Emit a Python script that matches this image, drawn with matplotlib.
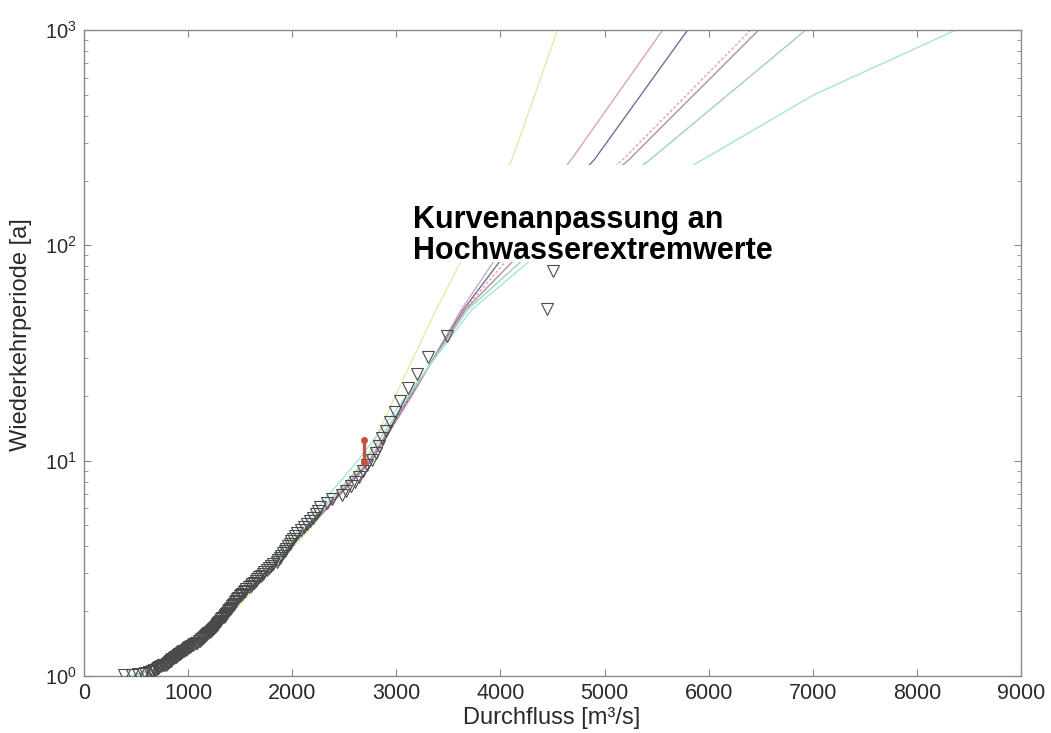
import matplotlib
matplotlib.use("Agg")
import matplotlib.pyplot as plt
from matplotlib.patches import Rectangle

plt.rcParams['font.family'] = ['Liberation Sans', 'DejaVu Sans']
plt.rcParams['mathtext.default'] = 'regular'

# annual flood peaks (descending) and their return periods
peak_q = [4500, 4450, 3490, 3300, 3200, 3110, 3040, 2990, 2940, 2900,
          2860, 2830, 2800, 2770, 2720, 2680, 2640, 2600, 2560, 2520,
          2480, 2380, 2330, 2270, 2250, 2230, 2200, 2170, 2140, 2110,
          2080, 2050, 2030, 2010, 1990, 1975, 1960, 1945, 1930, 1910,
          1895, 1880, 1865, 1850, 1820, 1800, 1780, 1755, 1730, 1715,
          1700, 1685, 1665, 1650, 1635, 1615, 1600, 1585, 1560, 1550,
          1535, 1520, 1510, 1495, 1480, 1470, 1460, 1450, 1440, 1430,
          1420, 1410, 1400, 1390, 1380, 1370, 1362, 1355, 1350, 1340,
          1330, 1320, 1310, 1300, 1290, 1280, 1275, 1265, 1260, 1250,
          1240, 1230, 1220, 1210, 1195, 1185, 1175, 1160, 1150, 1140,
          1130, 1120, 1110, 1100, 1085, 1075, 1060, 1045, 1030, 1020,
          1010, 1000, 990, 975, 965, 955, 945, 930, 920, 910,
          900, 890, 880, 870, 860, 850, 840, 835, 830, 820,
          810, 800, 790, 770, 755, 740, 725, 715, 710, 700,
          685, 670, 655, 640, 620, 590, 565, 520, 460, 385]
peak_t = [76.0, 50.7, 38.0, 30.4, 25.3, 21.7, 19.0, 16.9, 15.2, 13.8,
          12.7, 11.7, 10.9, 10.1, 9.5, 8.94, 8.44, 8.0, 7.6, 7.24,
          6.91, 6.61, 6.33, 6.08, 5.85, 5.63, 5.43, 5.24, 5.07, 4.90,
          4.75, 4.61, 4.47, 4.34, 4.22, 4.11, 4.0, 3.90, 3.80, 3.71,
          3.62, 3.53, 3.45, 3.38, 3.30, 3.23, 3.17, 3.10, 3.04, 2.98,
          2.92, 2.87, 2.81, 2.76, 2.71, 2.67, 2.62, 2.58, 2.53, 2.49,
          2.45, 2.41, 2.38, 2.34, 2.30, 2.27, 2.24, 2.20, 2.17, 2.14,
          2.11, 2.08, 2.05, 2.03, 2.0, 1.97, 1.95, 1.92, 1.90, 1.88,
          1.85, 1.83, 1.81, 1.79, 1.77, 1.75, 1.73, 1.71, 1.69, 1.67,
          1.65, 1.63, 1.62, 1.60, 1.58, 1.57, 1.55, 1.54, 1.52, 1.50,
          1.49, 1.48, 1.46, 1.45, 1.43, 1.42, 1.41, 1.39, 1.38, 1.37,
          1.36, 1.35, 1.33, 1.32, 1.31, 1.30, 1.29, 1.28, 1.27, 1.26,
          1.25, 1.24, 1.23, 1.22, 1.21, 1.20, 1.19, 1.18, 1.17, 1.16,
          1.15, 1.14, 1.13, 1.126, 1.12, 1.11, 1.10, 1.094, 1.086, 1.078,
          1.07, 1.063, 1.056, 1.048, 1.041, 1.034, 1.027, 1.020, 1.013, 1.007]

# fitted distributions, discharge at fixed return periods
fit_t = [1.01, 1.1, 1.5, 2, 5, 10, 20, 50, 100, 250, 500, 1000]
fit_yellow = [500, 780, 1160, 1440, 2200, 2700, 2990, 3380, 3700, 4110, 4330, 4548]
fit_pink = [480, 760, 1130, 1390, 2180, 2760, 3150, 3620, 4040, 4680, 5119, 5558]
fit_navy = [480, 760, 1130, 1390, 2180, 2760, 3140, 3640, 4110, 4902, 5350, 5798]
fit_red = [480, 760, 1130, 1390, 2170, 2750, 3140, 3650, 4180, 5176, 5790, 6404]
fit_purple = [480, 760, 1130, 1390, 2170, 2740, 3130, 3660, 4270, 5235, 5858, 6481]
fit_green = [480, 760, 1130, 1385, 2150, 2700, 3120, 3680, 4370, 5437, 6185, 6933]
fit_cyan = [470, 750, 1110, 1370, 2100, 2630, 3100, 3720, 4460, 5944, 7010, 8375]

# confidence band at one event
ci_q = [2690, 2690]
ci_t = [9.9, 12.5]

x_ticks = [0, 1000, 2000, 3000, 4000, 5000, 6000, 7000, 8000, 9000]

fig = plt.figure(figsize=(10.51, 7.33), dpi=100)
ax = fig.add_axes([84 / 1051, 1 - 676 / 733, 937 / 1051, 646 / 733])

fits = [
    (fit_yellow, '#e6eaa8', '-'),
    (fit_pink, '#d9a3c4', '-'),
    (fit_navy, '#6f6f9e', '-'),
    (fit_red, '#e2a2a2', (0, (2, 1.5))),
    (fit_purple, '#b78cae', '-'),
    (fit_green, '#9dd5b6', '-'),
    (fit_cyan, '#a6e2e2', '-'),
]
for q, c, ls in fits:
    ax.plot(q, fit_t, color=c, lw=1.0, ls=ls, zorder=2)

ax.plot(peak_q, peak_t, 'v', ms=8.5, mfc='none', mec='#4a4a4a', mew=0.8, zorder=3)
ax.plot(ci_q, ci_t, color='#c4533d', lw=2.4, marker='o', ms=4, zorder=4)

ax.set_yscale('log')
ax.set_xlim(0, 9000)
ax.set_ylim(1, 1000)
ax.set_xticks(x_ticks)

for s in ax.spines.values():
    s.set_color('#8a8a8a')
    s.set_linewidth(1.0)
ax.tick_params(which='both', direction='in', top=True, right=True,
               color='#8a8a8a', labelcolor='#2a2a2a')
ax.tick_params(which='major', length=5, pad=6)
ax.tick_params(which='minor', length=3)
ax.tick_params(axis='x', labelsize=15.5, pad=5)
ax.tick_params(axis='y', labelsize=14.5, pad=5)

ax.set_xlabel('Durchfluss [m³/s]', fontsize=17, color='#2a2a2a')
ax.set_ylabel('Wiederkehrperiode [a]', fontsize=17, color='#2a2a2a')
ax.xaxis.set_label_coords(0.4995, -0.048)
ax.yaxis.set_label_coords(-0.055, 0.529)

# pasted annotation box covering part of the curves
ax.add_patch(Rectangle((3040, 84), 3840, 236 - 84, facecolor='white',
                       edgecolor='none', zorder=5))
ax.text(3160, 111, 'Kurvenanpassung an\nHochwasserextremwerte', fontsize=22,
        fontweight='bold', color='black', va='center', ha='left',
        linespacing=1.08, zorder=6)

fig.savefig('out.png', dpi=100)
